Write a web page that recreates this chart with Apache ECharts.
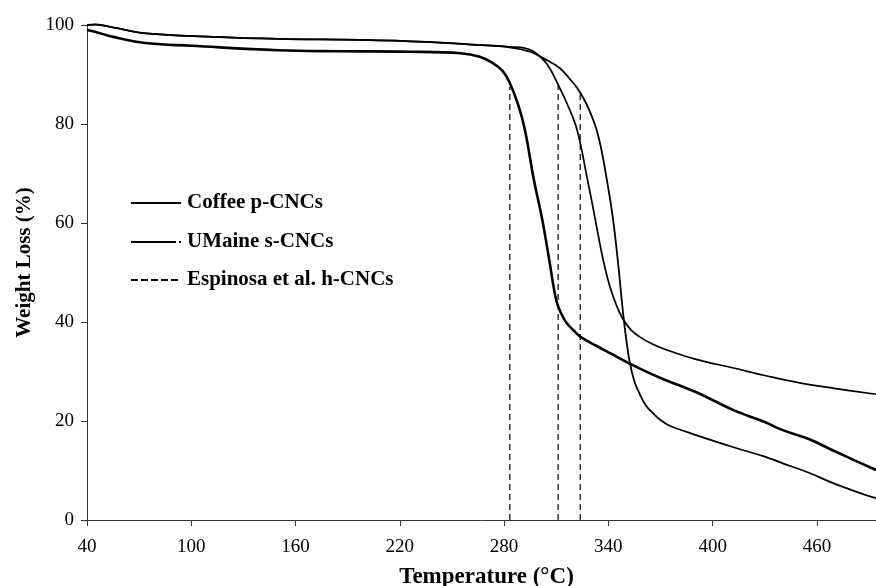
<!DOCTYPE html>
<html>
<head>
<meta charset="utf-8">
<script src="https://cdn.jsdelivr.net/npm/echarts@6/dist/echarts.min.js"></script>
<style>
html,body{margin:0;padding:0;background:#fff;}
#chart{width:876px;height:586px;}
</style>
</head>
<body>
<div id="chart"></div>
<script>
// ---- data ----
const xTicks = [40, 100, 160, 220, 280, 340, 400, 460];
const yTicks = [0, 20, 40, 60, 80, 100];

const seriesNames = ["Coffee p-CNCs", "UMaine s-CNCs", "Espinosa et al. h-CNCs"];

// thick curve, first to decompose
const coffeeT = [40, 45, 55, 75, 100, 150, 185, 225, 255, 266, 273, 279, 283, 288, 292, 297, 302, 306, 310, 313, 316, 320, 324, 333, 341, 354, 370, 390, 412, 430, 440, 455, 469, 482, 494];
const coffeeW = [99, 98.6, 97.6, 96.3, 95.8, 94.9, 94.7, 94.6, 94.3, 93.6, 92.4, 90.8, 88.5, 84, 78.8, 69, 60.6, 52.5, 44.4, 41.6, 39.8, 38.3, 37, 35.2, 33.7, 31.3, 28.7, 25.9, 22.2, 19.8, 18.2, 16.4, 14.1, 12, 10.1];

// gradual-drop curve
const umaineT = [40, 45, 55, 74, 112, 150, 197, 235, 264, 283, 295, 303, 307, 311, 316, 322, 328, 331.5, 335, 338, 341, 344.5, 348.4, 353, 358, 365, 374, 390, 412, 430, 450, 470, 494];
const umaineW = [100, 100.1, 99.5, 98.3, 97.6, 97.2, 97, 96.6, 96, 95.6, 95, 92.8, 90.8, 88, 84.3, 78.8, 68.7, 62.5, 56, 51, 47, 43.5, 40.6, 38.4, 37, 35.6, 34.3, 32.5, 30.7, 29.2, 27.7, 26.6, 25.4];

// sharp-drop curve
const espT = [40, 45, 55, 74, 112, 150, 197, 235, 264, 283, 295, 303, 312, 318, 322, 326, 329, 331.5, 333.5, 336, 339, 342, 344, 346, 348.4, 350.4, 352.4, 355, 358, 361.5, 365.6, 370, 375, 390, 412, 430, 440, 455, 469, 482, 494];
const espW = [100, 100.1, 99.5, 98.3, 97.6, 97.2, 97, 96.6, 96, 95.5, 94.6, 93.2, 91.3, 89, 87.3, 85, 82.8, 80.6, 78.5, 74.8, 69, 62.5, 57, 50.5, 42, 36.2, 31.7, 28, 25.5, 23.2, 21.6, 20.2, 19.1, 17.2, 14.7, 12.8, 11.5, 9.6, 7.5, 5.8, 4.4];

// vertical dashed marker lines (temperature, top value)
const markerT = [283.3, 311.1, 323.8];
const markerTop = [87.5, 88.3, 86.5];

// ---- build ----
const zip = (xs, ys) => xs.map((x, i) => [x, ys[i]]);
const serifFont = '"Liberation Serif", "Times New Roman", serif';

const curves = [
  {name: seriesNames[0], data: zip(coffeeT, coffeeW), width: 2.6},
  {name: seriesNames[1], data: zip(umaineT, umaineW), width: 1.7},
  {name: seriesNames[2], data: zip(espT, espW), width: 1.8}
];

const series = curves.map(c => ({
  type: 'line',
  name: c.name,
  data: c.data,
  showSymbol: false,
  smooth: 0.4,
  clip: false,
  lineStyle: {color: '#000', width: c.width},
  z: 3
}));

markerT.forEach((t, i) => {
  series.push({
    type: 'line',
    name: 'marker' + i,
    data: [[t, 0], [t, markerTop[i]]],
    showSymbol: false,
    lineStyle: {color: '#000', width: 1.2, type: [6, 4]},
    z: 2
  });
});

const legendY = [203, 242, 280];
const graphic = [];
// legend icons
graphic.push({type: 'line', shape: {x1: 131, y1: legendY[0], x2: 181, y2: legendY[0]}, style: {stroke: '#000', lineWidth: 1.8}});
graphic.push({type: 'line', shape: {x1: 131, y1: legendY[1], x2: 176, y2: legendY[1]}, style: {stroke: '#000', lineWidth: 1.8}});
graphic.push({type: 'line', shape: {x1: 179, y1: legendY[1], x2: 181, y2: legendY[1]}, style: {stroke: '#000', lineWidth: 1.8}});
graphic.push({type: 'line', shape: {x1: 131, y1: legendY[2], x2: 181, y2: legendY[2]}, style: {stroke: '#000', lineWidth: 1.8, lineDash: [7, 3]}});
seriesNames.forEach((n, i) => {
  graphic.push({
    type: 'text', left: 187, top: legendY[i] - 11,
    style: {text: n, font: 'bold 21px ' + serifFont, fill: '#000'}
  });
});

const chart = echarts.init(document.getElementById('chart'), null, {renderer: 'canvas'});
chart.setOption({
  animation: false,
  backgroundColor: '#fff',
  grid: {left: 87, right: 0, top: 25, bottom: 66, containLabel: false, outerBoundsMode: 'none'},
  xAxis: {
    type: 'value', min: 40, max: 494,
    name: 'Temperature (°C)', nameLocation: 'middle', nameGap: 46,
    nameTextStyle: {fontFamily: serifFont, fontWeight: 'bold', fontSize: 23, color: '#000', padding: [0, 0, 0, 10]},
    axisLine: {show: true, onZero: false, lineStyle: {color: '#333', width: 1}},
    axisTick: {show: true, length: 6, lineStyle: {color: '#333'}, customValues: xTicks},
    axisLabel: {customValues: xTicks, fontFamily: serifFont, fontSize: 19, color: '#000', margin: 18},
    splitLine: {show: false}
  },
  yAxis: {
    type: 'value', min: 0, max: 100, interval: 20,
    name: 'Weight Loss (%)', nameLocation: 'middle', nameGap: 52,
    nameTextStyle: {fontFamily: serifFont, fontWeight: 'bold', fontSize: 21, color: '#000', padding: [0, 0, 0, 20]},
    axisLine: {show: true, lineStyle: {color: '#333', width: 1}},
    axisTick: {show: true, length: 6, lineStyle: {color: '#333'}},
    axisLabel: {fontFamily: serifFont, fontSize: 19, color: '#000', margin: 13,
      formatter: v => yTicks.includes(v) ? String(v) : ''},
    splitLine: {show: false}
  },
  graphic: graphic,
  series: series
});
</script>
</body>
</html>
